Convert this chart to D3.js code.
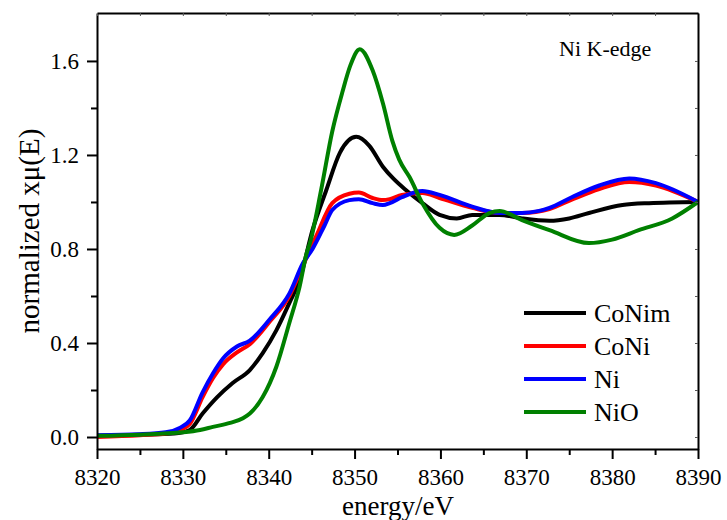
<!DOCTYPE html>
<html>
<head>
<meta charset="utf-8">
<script src="https://cdn.jsdelivr.net/npm/d3@7/dist/d3.min.js"></script>
<style>
  html, body { margin: 0; padding: 0; background: #fff; }
  svg text { font-family: "Liberation Serif", "Times New Roman", Times, "DejaVu Serif", serif; fill: #000; }
</style>
</head>
<body>
<svg id="chart" width="727" height="520"></svg>
<script>
// Ni K-edge XANES spectra, normalized absorption vs. photon energy
const seriesNames = ["CoNim", "CoNi", "Ni", "NiO"];
const seriesColors = ["#000000", "#ff0000", "#0000ff", "#008000"];

const energyCoNim = [8320, 8325, 8329, 8330.8, 8332.3, 8334, 8335.8, 8337.8, 8339.3, 8340.9, 8342.4, 8343.6, 8345.1, 8346.7, 8348.3, 8350.2, 8351.7, 8353.3, 8354.5, 8356, 8357.9, 8359.9, 8361.9, 8363.7, 8366.9, 8369.5, 8372.7, 8375, 8377.3, 8381.2, 8384.3, 8390];
const muCoNim     = [0.005, 0.01, 0.015, 0.03, 0.10, 0.17, 0.23, 0.285, 0.357, 0.455, 0.57, 0.668, 0.88, 1.05, 1.21, 1.277, 1.24, 1.15, 1.10, 1.05, 0.995, 0.945, 0.93, 0.945, 0.945, 0.93, 0.92, 0.93, 0.953, 0.987, 0.995, 1.0];

const energyCoNi = [8320, 8325, 8328, 8329.7, 8330.8, 8332.3, 8333.5, 8334.7, 8336.3, 8337.8, 8340.1, 8342.4, 8344, 8345.6, 8347.4, 8349.4, 8350.5, 8352.1, 8353.3, 8354.1, 8355.5, 8357.9, 8359.9, 8363.7, 8366.9, 8369.5, 8372.7, 8375.3, 8378.5, 8382, 8385.1, 8390];
const muCoNi     = [0.0, 0.008, 0.015, 0.03, 0.055, 0.17, 0.25, 0.31, 0.36, 0.395, 0.49, 0.60, 0.73, 0.86, 0.995, 1.035, 1.04, 1.017, 1.008, 1.012, 1.03, 1.038, 1.017, 0.975, 0.953, 0.953, 0.97, 1.01, 1.055, 1.085, 1.07, 1.0];

const energyNi = [8320, 8325, 8328, 8329.7, 8330.8, 8332.3, 8333.5, 8334.7, 8336.3, 8337.8, 8340.1, 8342.4, 8344, 8345.1, 8346.5, 8347.4, 8349.4, 8350.5, 8352.1, 8353.3, 8354.1, 8355.5, 8357.9, 8359.9, 8363.7, 8366.9, 8369.5, 8371.5, 8372.7, 8375.3, 8378.5, 8382, 8385.1, 8390];
const muNi     = [0.008, 0.012, 0.02, 0.04, 0.07, 0.19, 0.27, 0.335, 0.385, 0.41, 0.50, 0.61, 0.74, 0.80, 0.90, 0.966, 1.008, 1.012, 0.995, 0.987, 0.995, 1.02, 1.047, 1.03, 0.98, 0.953, 0.953, 0.962, 0.975, 1.02, 1.07, 1.10, 1.08, 1.0];

const energyNiO = [8320, 8325, 8330, 8332, 8333.5, 8335.5, 8337, 8337.8, 8339.3, 8340.9, 8342.4, 8343.6, 8344.4, 8344.8, 8346.1, 8347.4, 8348.6, 8349.5, 8350.6, 8352.1, 8353.3, 8354.4, 8355.2, 8356.4, 8357.9, 8359.9, 8361.6, 8363.7, 8365.7, 8366.9, 8369.5, 8372.7, 8377.3, 8380, 8383.1, 8387, 8390];
const muNiO     = [0.005, 0.01, 0.02, 0.03, 0.043, 0.06, 0.08, 0.10, 0.17, 0.30, 0.485, 0.64, 0.78, 0.825, 1.05, 1.30, 1.47, 1.58, 1.65, 1.56, 1.42, 1.26, 1.18, 1.106, 0.995, 0.89, 0.86, 0.90, 0.953, 0.962, 0.923, 0.88, 0.825, 0.84, 0.88, 0.93, 1.0];

const xTicks = [8320, 8330, 8340, 8350, 8360, 8370, 8380, 8390];
const yTicks = [0.0, 0.4, 0.8, 1.2, 1.6];
const annotation = "Ni K-edge";
const xTitle = "energy/eV";
const yTitle = "normalized xμ(E)";

const energies = [energyCoNim, energyCoNi, energyNi, energyNiO];
const values = [muCoNim, muCoNi, muNi, muNiO];

const serif = "'Liberation Serif', 'Times New Roman', Times, 'DejaVu Serif', serif";

const svg = d3.select("#chart");
const margin = { left: 97, right: 29, top: 13, bottom: 71 };
const W = 727, H = 520;

const x = d3.scaleLinear().domain([8320, 8390]).range([margin.left, W - margin.right]);
const y = d3.scaleLinear().domain([-0.051, 1.804]).range([H - margin.bottom, margin.top]);

// clip region for the spectra
svg.append("defs").append("clipPath").attr("id", "plotClip")
  .append("rect")
  .attr("x", margin.left).attr("y", margin.top)
  .attr("width", W - margin.left - margin.right)
  .attr("height", H - margin.top - margin.bottom);

// spectra
const line = d3.line().x(d => x(d[0])).y(d => y(d[1])).curve(d3.curveMonotoneX);
const curves = svg.append("g").attr("clip-path", "url(#plotClip)");
seriesNames.forEach((name, i) => {
  const pts = energies[i].map((e, k) => [e, values[i][k]]);
  curves.append("path")
    .datum(pts)
    .attr("fill", "none")
    .attr("stroke", seriesColors[i])
    .attr("stroke-width", 4)
    .attr("stroke-linejoin", "round")
    .attr("d", line);
});

// axes
const xMinor = d3.range(8325, 8390, 10);
const yMinor = [0.2, 0.6, 1.0, 1.4];

const axisStroke = g => {
  g.attr("font-family", serif);
  g.select(".domain").attr("stroke", "#000").attr("stroke-width", 2);
  g.selectAll(".tick line").attr("stroke", "#000").attr("stroke-width", 2);
};

// bottom axis
svg.append("g")
  .attr("transform", `translate(0,${H - margin.bottom})`)
  .call(d3.axisBottom(x).tickValues(xTicks).tickFormat(d3.format("d")).tickSize(10).tickPadding(10).tickSizeOuter(0))
  .call(axisStroke)
  .call(g => g.selectAll(".tick text").attr("font-size", 23));
svg.append("g")
  .attr("transform", `translate(0,${H - margin.bottom})`)
  .call(d3.axisBottom(x).tickValues(xMinor).tickFormat("").tickSize(6).tickSizeOuter(0))
  .call(axisStroke)
  .call(g => g.select(".domain").remove());

// left axis
svg.append("g")
  .attr("transform", `translate(${margin.left},0)`)
  .call(d3.axisLeft(y).tickValues(yTicks).tickFormat(d3.format(".1f")).tickSize(10).tickPadding(8).tickSizeOuter(0))
  .call(axisStroke)
  .call(g => g.selectAll(".tick text").attr("font-size", 23));
svg.append("g")
  .attr("transform", `translate(${margin.left},0)`)
  .call(d3.axisLeft(y).tickValues(yMinor).tickFormat("").tickSize(6).tickSizeOuter(0))
  .call(axisStroke)
  .call(g => g.select(".domain").remove());

// top and right frame with small inward ticks
svg.append("g")
  .attr("transform", `translate(0,${margin.top})`)
  .call(d3.axisTop(x).tickValues(xTicks.concat(xMinor)).tickFormat("").tickSize(-3).tickSizeOuter(0))
  .call(g => { g.select(".domain").attr("stroke", "#000").attr("stroke-width", 2);
               g.selectAll(".tick line").attr("stroke", "#555").attr("stroke-width", 1); });
svg.append("g")
  .attr("transform", `translate(${W - margin.right},0)`)
  .call(d3.axisRight(y).tickValues(yTicks.concat(yMinor)).tickFormat("").tickSize(-3).tickSizeOuter(0))
  .call(g => { g.select(".domain").attr("stroke", "#000").attr("stroke-width", 2);
               g.selectAll(".tick line").attr("stroke", "#555").attr("stroke-width", 1); });

// axis titles
svg.append("text")
  .attr("font-family", serif)
  .attr("x", 398)
  .attr("y", 515)
  .attr("text-anchor", "middle")
  .attr("font-size", 27)
  .text(xTitle);
svg.append("text")
  .attr("font-family", serif)
  .attr("transform", `translate(39,231) rotate(-90)`)
  .attr("text-anchor", "middle")
  .attr("font-size", 29)
  .text(yTitle);

// edge annotation
svg.append("text")
  .attr("font-family", serif)
  .attr("x", 559).attr("y", 56)
  .attr("font-size", 22)
  .text(annotation);

// legend
const legend = svg.append("g").attr("font-family", serif);
seriesNames.forEach((name, i) => {
  const ly = 313 + i * 33;
  legend.append("line")
    .attr("x1", 524).attr("x2", 586)
    .attr("y1", ly).attr("y2", ly)
    .attr("stroke", seriesColors[i]).attr("stroke-width", 4);
  legend.append("text")
    .attr("x", 594).attr("y", ly + 9)
    .attr("font-size", 26)
    .text(name);
});
</script>
</body>
</html>
